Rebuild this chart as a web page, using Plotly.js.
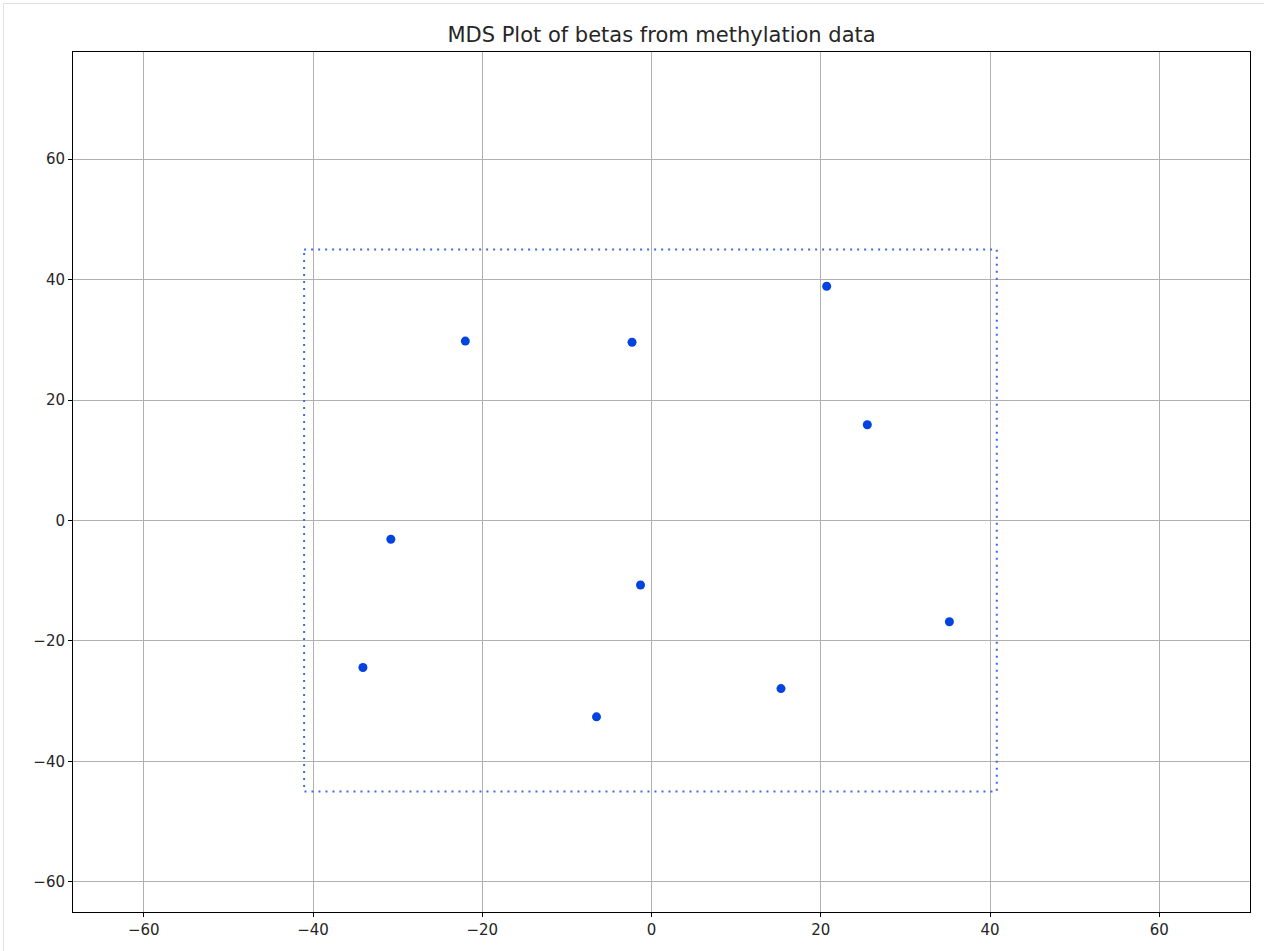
<!DOCTYPE html>
<html>
<head>
<meta charset="utf-8">
<script src="https://cdn.plot.ly/plotly-3.0.1.min.js"></script>
<style>
  html, body { margin: 0; padding: 0; background: #ffffff; }
  #wrap { position: relative; width: 1264px; height: 951px; }
  #chart { position: absolute; left: 0; top: 0; width: 1264px; height: 951px; }
  #edge { position: absolute; left: 3px; top: 3px; width: 1261px; height: 948px;
          border-top: 1px solid #e0e0e0; border-left: 1px solid #e0e0e0; pointer-events: none; }
</style>
</head>
<body>
<div id="wrap">
  <div id="chart"></div>
  <div id="edge"></div>
</div>
<script>
// MDS coordinates of samples
const mdsX = [-22.0, -2.3, 20.7, 25.5, -30.8, -1.3, 35.2, -34.1, -6.5, 15.3];
const mdsY = [29.8, 29.6, 38.9, 15.9, -3.1, -10.7, -16.8, -24.4, -32.6, -27.9];

// dotted bounding box corners
const boxX = [-41.05, 40.8, 40.8, -41.05, -41.05];
const boxY = [45, 45, -45, -45, 45];

// axis ticks
const xTicks = [-60, -40, -20, 0, 20, 40, 60];
const yTicks = [-60, -40, -20, 0, 20, 40, 60];
const xTickText = ['\u221260', '\u221240', '\u221220', '0', '20', '40', '60'];
const yTickText = ['\u221260', '\u221240', '\u221220', '0', '20', '40', '60'];

const titleText = 'MDS Plot of betas from methylation data';

const traces = [
  {
    type: 'scatter', mode: 'lines',
    x: boxX, y: boxY,
    line: { color: '#4169e1', width: 2, dash: '2px,5px' },
    hoverinfo: 'skip', showlegend: false
  },
  {
    type: 'scatter', mode: 'markers',
    x: mdsX, y: mdsY,
    marker: { color: '#0343df', size: 9, line: { width: 0 } },
    showlegend: false
  }
];

const axisCommon = {
  showgrid: true, gridcolor: '#b0b0b0', gridwidth: 1,
  zeroline: false,
  showline: true, linecolor: '#000000', linewidth: 1, mirror: true,
  ticks: 'outside', ticklen: 4, tickwidth: 1, tickcolor: '#000000',
  tickfont: { family: 'DejaVu Sans', size: 15, color: '#262626' },
  tickmode: 'array'
};

const layout = {
  width: 1264, height: 951,
  margin: { l: 73, r: 14, t: 52, b: 39, pad: 0 },
  paper_bgcolor: 'rgba(0,0,0,0)', plot_bgcolor: '#ffffff',
  title: {
    text: titleText,
    font: { family: 'DejaVu Sans', size: 21, color: '#262626' },
    x: 0.5, xref: 'paper', xanchor: 'center',
    y: 1, yref: 'paper', yanchor: 'bottom', pad: { b: 10 }
  },
  xaxis: Object.assign({}, axisCommon, {
    range: [-68.36, 70.72], tickvals: xTicks, ticktext: xTickText
  }),
  yaxis: Object.assign({}, axisCommon, {
    range: [-65.0, 77.8], tickvals: yTicks, ticktext: yTickText
  }),
  showlegend: false
};

Plotly.newPlot('chart', traces, layout, { displayModeBar: false, staticPlot: true });
</script>
</body>
</html>
